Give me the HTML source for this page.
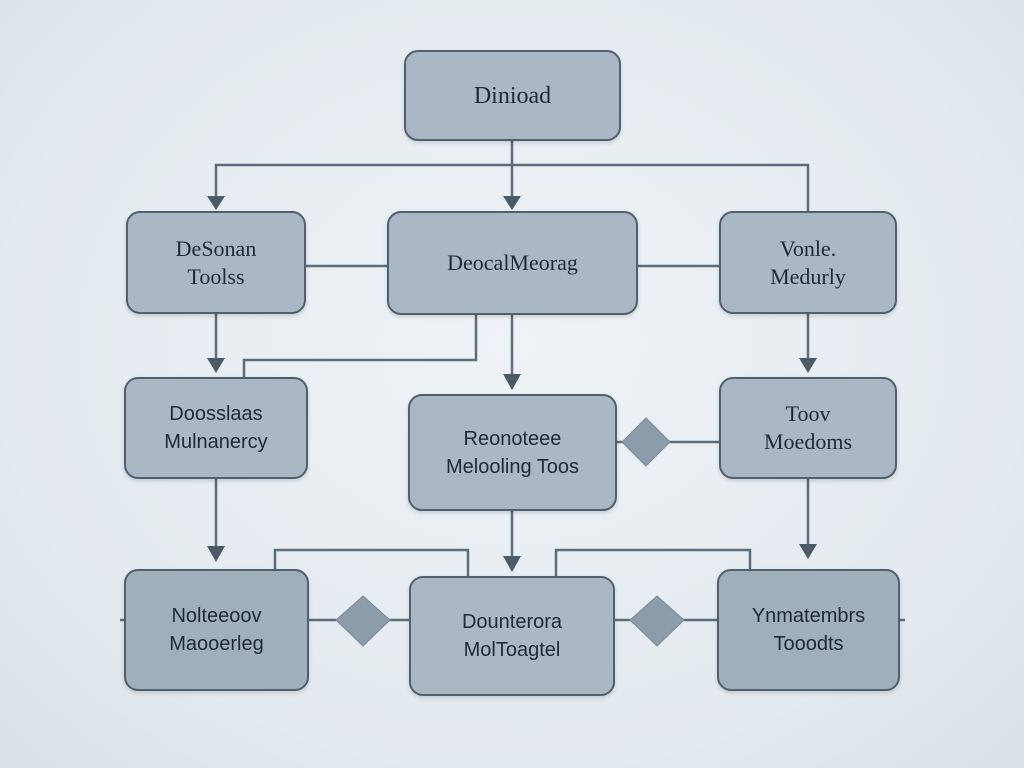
<!DOCTYPE html>
<html><head><style>
body{margin:0;width:1024px;height:768px;overflow:hidden;background:radial-gradient(ellipse at 50% 45%,#eef3f6 0%,#e3eaef 70%,#d8e1e7 100%);font-family:"Liberation Serif",serif;}
.b{position:absolute;box-sizing:border-box;background:#a9b8c4;border:2px solid #50606e;border-radius:14px;display:flex;align-items:center;justify-content:center;text-align:center;color:#1f2a33;font-size:22px;line-height:28px;box-shadow:0 2px 4px rgba(0,0,0,.15)}
.s{font-family:"Liberation Sans",sans-serif;}
</style></head><body>
<svg width="1024" height="768" style="position:absolute;left:0;top:0">
<defs><marker id="a" markerWidth="10" markerHeight="10" refX="5" refY="8" orient="auto" markerUnits="userSpaceOnUse"><path d="M0,0 L10,0 L5,10 z" fill="#4a5a68" transform="rotate(-90 5 5)"/></marker></defs>
<g stroke="#5d6d7b" stroke-width="2.5" fill="none">
<path d="M512,141 V200"/><path d="M216,200 V180 V165 H808 V211"/>
<path d="M306,266 H387 M638,266 H719"/>
<path d="M216,314 V362 M512,315 V378 M808,314 V362"/>
<path d="M476,315 V360 H244 V377"/>
<path d="M617,442 H719"/>
<path d="M216,479 V550 M512,511 V560 M808,479 V548"/>
<path d="M275,569 V550 H468 V576 M556,576 V550 H750 V569"/>
<path d="M120,620 H124 M309,620 H409 M615,620 H717 M900,620 H905"/>
</g>
<g fill="#4a5a68">
<path d="M503,196 L521,196 L512,210 z"/><path d="M207,196 L225,196 L216,210 z"/>
<path d="M207,358 L225,358 L216,373 z"/><path d="M503,374 L521,374 L512,390 z"/><path d="M799,358 L817,358 L808,373 z"/>
<path d="M207,546 L225,546 L216,562 z"/><path d="M503,556 L521,556 L512,572 z"/><path d="M799,544 L817,544 L808,559 z"/>
</g>
<g fill="#8c9cab" stroke="#7b8b99">
<path d="M646,418 L670,442 L646,466 L622,442 z"/>
<path d="M363,596 L390,620 L363,646 L336,620 z"/>
<path d="M657,596 L684,620 L657,646 L630,620 z"/>
</g>
</svg>
<div class="b" style="left:404px;top:50px;width:217px;height:91px;font-size:24px">Dinioad</div>
<div class="b" style="left:126px;top:211px;width:180px;height:103px">DeSonan<br>Toolss</div>
<div class="b" style="left:387px;top:211px;width:251px;height:104px">DeocalMeorag</div>
<div class="b" style="left:719px;top:211px;width:178px;height:103px">Vonle.<br>Medurly</div>
<div class="b s" style="left:124px;top:377px;width:184px;height:102px;font-size:20px">Doosslaas<br>Mulnanercy</div>
<div class="b s" style="left:408px;top:394px;width:209px;height:117px;font-size:20px">Reonoteee<br>Melooling Toos</div>
<div class="b" style="left:719px;top:377px;width:178px;height:102px">Toov<br>Moedoms</div>
<div class="b s" style="left:124px;top:569px;width:185px;height:122px;font-size:20px;background:#9fafbc">Nolteeoov<br>Maooerleg</div>
<div class="b s" style="left:409px;top:576px;width:206px;height:120px;font-size:20px">Dounterora<br>MolToagtel</div>
<div class="b s" style="left:717px;top:569px;width:183px;height:122px;font-size:20px;background:#9fafbc">Ynmatembrs<br>Tooodts</div>
</body></html>
